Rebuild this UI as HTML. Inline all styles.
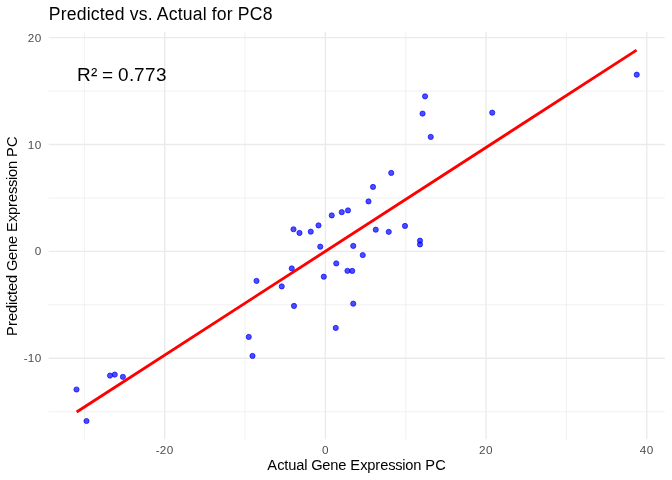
<!DOCTYPE html>
<html><head><meta charset="utf-8"><title>Predicted vs. Actual for PC8</title>
<style>
html,body{margin:0;padding:0;background:#fff;}
body{width:672px;height:480px;overflow:hidden;}
svg{display:block;font-family:"Liberation Sans",Arial,Helvetica,sans-serif;}
text{white-space:pre;}
</style></head><body>
<svg width="672" height="480" viewBox="0 0 672 480">
<rect width="672" height="480" fill="#ffffff"/>
<g stroke="#ebebeb" fill="none" stroke-width="0.71">
<line x1="84.42" y1="31.9" x2="84.42" y2="439.3"/>
<line x1="245.07" y1="31.9" x2="245.07" y2="439.3"/>
<line x1="405.72" y1="31.9" x2="405.72" y2="439.3"/>
<line x1="566.38" y1="31.9" x2="566.38" y2="439.3"/>
<line x1="48.65" y1="411.75" x2="664.8" y2="411.75"/>
<line x1="48.65" y1="304.85" x2="664.8" y2="304.85"/>
<line x1="48.65" y1="197.95" x2="664.8" y2="197.95"/>
<line x1="48.65" y1="91.05" x2="664.8" y2="91.05"/>
</g><g stroke="#ebebeb" fill="none" stroke-width="1.42">
<line x1="164.75" y1="31.9" x2="164.75" y2="439.3"/>
<line x1="325.40" y1="31.9" x2="325.40" y2="439.3"/>
<line x1="486.05" y1="31.9" x2="486.05" y2="439.3"/>
<line x1="646.70" y1="31.9" x2="646.70" y2="439.3"/>
<line x1="48.65" y1="358.30" x2="664.8" y2="358.30"/>
<line x1="48.65" y1="251.40" x2="664.8" y2="251.40"/>
<line x1="48.65" y1="144.50" x2="664.8" y2="144.50"/>
<line x1="48.65" y1="37.60" x2="664.8" y2="37.60"/>
</g>
<g fill="#0000ff" fill-opacity="0.7" stroke="#0000ff" stroke-opacity="0.7" stroke-width="0.94">
<circle cx="76.5" cy="389.5" r="2.6"/>
<circle cx="86.5" cy="421.0" r="2.6"/>
<circle cx="110.0" cy="375.6" r="2.6"/>
<circle cx="114.75" cy="374.6" r="2.6"/>
<circle cx="122.9" cy="376.85" r="2.6"/>
<circle cx="248.75" cy="336.9" r="2.6"/>
<circle cx="252.5" cy="355.9" r="2.6"/>
<circle cx="256.5" cy="280.9" r="2.6"/>
<circle cx="281.75" cy="286.4" r="2.6"/>
<circle cx="291.75" cy="268.4" r="2.6"/>
<circle cx="294.0" cy="305.9" r="2.6"/>
<circle cx="293.5" cy="229.25" r="2.6"/>
<circle cx="299.5" cy="232.95" r="2.6"/>
<circle cx="310.75" cy="231.65" r="2.6"/>
<circle cx="318.5" cy="225.4" r="2.6"/>
<circle cx="320.25" cy="246.65" r="2.6"/>
<circle cx="323.8" cy="276.7" r="2.6"/>
<circle cx="331.75" cy="215.4" r="2.6"/>
<circle cx="336.25" cy="263.4" r="2.6"/>
<circle cx="335.75" cy="327.9" r="2.6"/>
<circle cx="341.75" cy="212.15" r="2.6"/>
<circle cx="348.0" cy="210.4" r="2.6"/>
<circle cx="347.45" cy="270.85" r="2.6"/>
<circle cx="352.25" cy="270.9" r="2.6"/>
<circle cx="353.25" cy="245.9" r="2.6"/>
<circle cx="353.25" cy="303.65" r="2.6"/>
<circle cx="362.75" cy="255.1" r="2.6"/>
<circle cx="368.5" cy="201.4" r="2.6"/>
<circle cx="373.0" cy="186.9" r="2.6"/>
<circle cx="375.75" cy="229.65" r="2.6"/>
<circle cx="388.75" cy="231.85" r="2.6"/>
<circle cx="391.25" cy="172.9" r="2.6"/>
<circle cx="405.0" cy="225.95" r="2.6"/>
<circle cx="420.0" cy="240.65" r="2.6"/>
<circle cx="420.0" cy="244.4" r="2.6"/>
<circle cx="422.55" cy="113.6" r="2.6"/>
<circle cx="425.05" cy="96.35" r="2.6"/>
<circle cx="430.75" cy="136.9" r="2.6"/>
<circle cx="492.25" cy="112.65" r="2.6"/>
<circle cx="636.75" cy="74.65" r="2.6"/>
</g>
<line x1="76.65" y1="412.05" x2="636.6" y2="50.15" stroke="#ff0000" stroke-width="2.85"/>
<g font-size="11.73px" fill="#4d4d4d">
<text x="23.85 27.85 34.85" y="362">-10</text>
<text x="34.85" y="255">0</text>
<text x="27.85 34.85" y="149">10</text>
<text x="27.85 34.85" y="42">20</text>
<text x="155.75 159.75 166.75" y="454">-20</text>
<text x="321.90" y="454">0</text>
<text x="479.05 486.05" y="454">20</text>
<text x="639.70 646.70" y="454">40</text>
</g>
<text x="267.20 277.20 284.20 288.20 296.20 304.20 307.20 311.20 322.20 330.20 338.20 346.20 350.20 360.20 367.20 375.20 380.20 388.20 395.20 402.20 405.20 413.20 421.20 425.20 435.20" y="470" font-size="14.67px" fill="#000">Actual Gene Expression PC</text>
<text transform="translate(16.9,235.95) rotate(-90)" x="-100.00 -90.00 -85.00 -77.00 -69.00 -66.00 -59.00 -55.00 -47.00 -39.00 -35.00 -24.00 -16.00 -8.00 0.00 4.00 14.00 21.00 29.00 34.00 42.00 49.00 56.00 59.00 67.00 75.00 79.00 89.00" y="0" font-size="14.67px" fill="#000">Predicted Gene Expression PC</text>
<text x="48.75 60.75 66.75 76.75 86.75 90.75 99.75 104.75 114.75 124.75 129.75 138.75 147.75 152.75 156.75 168.75 177.75 182.75 192.75 202.75 206.75 211.75 216.75 226.75 232.75 237.75 249.75 262.75" y="19.9" font-size="17.6px" fill="#000">Predicted vs. Actual for PC8</text>
<text x="76.90 90.90 96.90 101.90 112.90 117.90 128.90 133.90 144.90 155.90" y="80.9" font-size="18.97px" fill="#000">R² = 0.773</text>
</svg></body></html>
